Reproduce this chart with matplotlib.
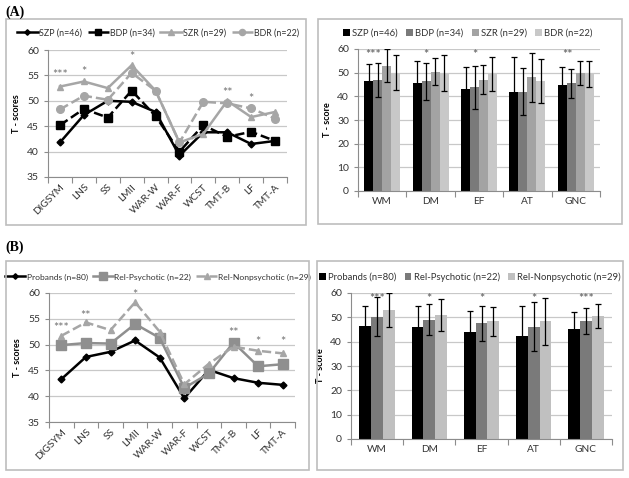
import matplotlib.pyplot as plt
import numpy as np
from matplotlib.patches import Rectangle

plt.rcParams['font.family'] = ['Lato', 'DejaVu Sans']

W, H = 629, 478

# line chart categories
tests = ['DIGSYM', 'LNS', 'SS', 'LMII', 'WAR-W', 'WAR-F', 'WCST', 'TMT-B', 'LF', 'TMT-A']

# panel A, line chart
szp = [41.8, 47.2, 50.0, 49.8, 47.8, 39.2, 43.8, 43.8, 41.5, 42.1]
bdp = [45.2, 48.4, 46.7, 52.0, 47.0, 40.0, 45.2, 42.9, 43.9, 42.1]
szr = [52.8, 53.8, 52.5, 57.0, 52.0, 41.8, 43.5, 50.0, 46.8, 47.8]
bdr = [48.3, 51.0, 50.2, 55.5, 52.0, 41.8, 49.8, 49.5, 48.5, 46.5]
stars_a_line = {0: '***', 1: '*', 3: '*', 7: '**', 8: '*'}
stars_a_line_y = {0: 55.0, 1: 55.6, 3: 58.6, 7: 51.6, 8: 50.4}

# panel B, line chart
probands = [43.3, 47.6, 48.6, 50.8, 47.5, 39.6, 45.1, 43.5, 42.6, 42.2]
rel_psy = [49.9, 50.3, 50.2, 54.0, 51.3, 41.6, 44.4, 50.4, 45.8, 46.2]
rel_non = [51.7, 54.3, 52.8, 58.2, 52.5, 42.3, 46.3, 49.6, 48.8, 48.3]
stars_b_line = {0: '***', 1: '**', 3: '*', 7: '**', 8: '*', 9: '*'}
stars_b_line_y = {0: 53.2, 1: 55.6, 3: 59.6, 7: 52.2, 8: 50.6, 9: 50.6}

# bar chart categories
domains = ['WM', 'DM', 'EF', 'AT', 'GNC']

# panel A, bar chart (means and SD)
bar_szp = [46.3, 45.8, 43.3, 42.0, 45.0]
bar_bdp = [46.8, 46.3, 43.8, 42.0, 45.5]
bar_szr = [53.0, 50.4, 47.0, 48.0, 50.0]
bar_bdr = [50.0, 50.0, 49.5, 46.5, 49.5]
err_szp = [7.2, 9.3, 9.0, 14.5, 7.6]
err_bdp = [7.2, 7.8, 9.2, 9.9, 6.1]
err_szr = [7.0, 5.8, 6.1, 10.4, 5.0]
err_bdr = [7.3, 7.6, 7.2, 9.3, 5.4]
stars_a_bar = {0: '***', 1: '*', 2: '*', 4: '**'}
stars_a_bar_x = {0: -0.18, 1: -0.09, 2: -0.09, 4: -0.18}

# panel B, bar chart
bar_prob = [46.5, 46.0, 43.8, 42.3, 45.3]
bar_relp = [50.3, 49.0, 47.5, 46.2, 48.5]
bar_reln = [53.0, 51.0, 48.3, 48.3, 50.5]
err_prob = [8.0, 8.5, 8.7, 12.2, 6.7]
err_relp = [8.1, 6.3, 7.3, 10.2, 5.4]
err_reln = [6.8, 6.6, 6.1, 9.5, 4.9]
stars_b_bar = {0: '***', 1: '*', 2: '*', 3: '*', 4: '***'}

fig = plt.figure(figsize=(W / 100, H / 100), dpi=100)


def px_axes(x0, y0, x1, y1):
    return fig.add_axes([x0 / W, 1 - y1 / H, (x1 - x0) / W, (y1 - y0) / H])


def frame(x0, y0, x1, y1):
    fig.add_artist(Rectangle((x0 / W, 1 - y1 / H), (x1 - x0) / W, (y1 - y0) / H,
                             transform=fig.transFigure, fill=False,
                             ec='#bdbdbd', lw=1.2))


def style(ax, ylabel):
    ax.grid(axis='y', color='#c8c8c8', lw=0.9)
    ax.set_axisbelow(True)
    for s in ['top', 'right']:
        ax.spines[s].set_visible(False)
    for s in ['left', 'bottom']:
        ax.spines[s].set_color('#8c8c8c')
        ax.spines[s].set_linewidth(0.8)
    ax.tick_params(axis='y', labelsize=7.5, colors='#8c8c8c', labelcolor='#333333',
                   length=3, width=0.8)
    ax.set_ylabel(ylabel, fontsize=6.5, fontweight='bold', labelpad=4)


def cat_ticks(ax, n, fs):
    ax.set_xlim(-0.5, n - 0.5)
    ax.set_xticks(np.arange(n))
    ax.set_xticks(np.arange(n + 1) - 0.5, minor=True)
    ax.tick_params(axis='x', which='major', length=0, labelsize=fs,
                   labelcolor='#333333', pad=4)
    ax.tick_params(axis='x', which='minor', length=4, color='#8c8c8c', width=0.8)


def legend_at(ax, cx, cy, ncol, **kw):
    leg = ax.legend(loc='center', bbox_to_anchor=(cx / W, 1 - cy / H),
                    bbox_transform=fig.transFigure, ncol=ncol, frameon=False,
                    borderaxespad=0, borderpad=0, **kw)
    for t in leg.get_texts():
        t.set_color('#333333')


def line_panel(ax, series, stars, stars_y, ncol, cx, cy, fs):
    x = np.arange(len(tests))
    for vals, c, ls, m, ms, lab in series:
        ax.plot(x, vals, color=c, ls=ls, marker=m, ms=ms, lw=1.8, label=lab)
    for i, s in stars.items():
        ax.text(x[i], stars_y[i], s, ha='center', va='center', fontsize=9,
                color='#707070')
    style(ax, 'T - scores')
    ax.set_ylim(35, 60)
    ax.set_yticks(range(35, 61, 5))
    cat_ticks(ax, len(tests), 7.3)
    ax.set_xticklabels(tests, rotation=45, ha='right', rotation_mode='anchor')
    legend_at(ax, cx, cy, ncol, fontsize=fs, handlelength=2.4,
              handletextpad=0.15, columnspacing=0.6, markerscale=0.8)


def bar_panel(ax, means, errs, colors, labels, stars, stars_dx, width, ncol,
              cx, cy, fs):
    n = len(means)
    x = np.arange(len(domains))
    for k in range(n):
        off = (k - (n - 1) / 2) * width
        ax.bar(x + off, means[k], width, color=colors[k], label=labels[k],
               yerr=errs[k], error_kw=dict(ecolor='black', elinewidth=0.9,
                                           capsize=2, capthick=0.9))
    for i, s in stars.items():
        ax.text(x[i] + stars_dx.get(i, 0), 57.5, s, ha='center', va='center',
                fontsize=9, color='#555555')
    style(ax, 'T - score')
    ax.set_ylim(0, 60)
    ax.set_yticks(range(0, 61, 10))
    cat_ticks(ax, len(domains), 7.3)
    ax.set_xticklabels(domains)
    legend_at(ax, cx, cy, ncol, fontsize=fs, handlelength=0.7,
              handleheight=0.7, handletextpad=0.25, columnspacing=0.9)


# frames and panel labels
frame(6, 19, 306, 225)
frame(318, 19, 622, 224)
frame(6, 261, 309, 470)
frame(317, 261, 623, 470)
fig.text(5 / W, 1 - 12 / H, '(A)', fontsize=10, fontweight='bold',
         family='Liberation Serif', va='center')
fig.text(5 / W, 1 - 247 / H, '(B)', fontsize=10, fontweight='bold',
         family='Liberation Serif', va='center')

# (A) line chart
ax1 = px_axes(48, 50, 287, 177)
line_panel(ax1, [
    (szp, 'black', '-', 'D', 3.5, 'SZP (n=46)'),
    (bdp, 'black', '--', 's', 5.5, 'BDP (n=34)'),
    (szr, '#a6a6a6', '-', '^', 5, 'SZR (n=29)'),
    (bdr, '#a6a6a6', '--', 'o', 5.5, 'BDR (n=22)'),
], stars_a_line, stars_a_line_y, 4, 158, 33, 6.4)

# (A) bar chart
ax2 = px_axes(358, 49, 600, 191)
bar_panel(ax2, [bar_szp, bar_bdp, bar_szr, bar_bdr],
          [err_szp, err_bdp, err_szr, err_bdr],
          ['black', '#7a7a7a', '#a3a3a3', '#c8c8c8'],
          ['SZP (n=46)', 'BDP (n=34)', 'SZR (n=29)', 'BDR (n=22)'],
          stars_a_bar, stars_a_bar_x, 0.185, 4, 468, 33, 6.8)

# (B) line chart
ax3 = px_axes(49, 293, 295, 422)
line_panel(ax3, [
    (probands, 'black', '-', 'D', 3.5, 'Probands (n=80)'),
    (rel_psy, '#8f8f8f', '-', 's', 6.5, 'Rel-Psychotic (n=22)'),
    (rel_non, '#a6a6a6', '--', '^', 5, 'Rel-Nonpsychotic (n=29)'),
], stars_b_line, stars_b_line_y, 3, 158, 277, 6.1)

# (B) bar chart
ax4 = px_axes(351, 293, 612, 439)
bar_panel(ax4, [bar_prob, bar_relp, bar_reln],
          [err_prob, err_relp, err_reln],
          ['black', '#7a7a7a', '#c0c0c0'],
          ['Probands (n=80)', 'Rel-Psychotic (n=22)', 'Rel-Nonpsychotic (n=29)'],
          stars_b_bar, {}, 0.225, 3, 470, 277, 6.8)

fig.savefig('out.png', dpi=100)
